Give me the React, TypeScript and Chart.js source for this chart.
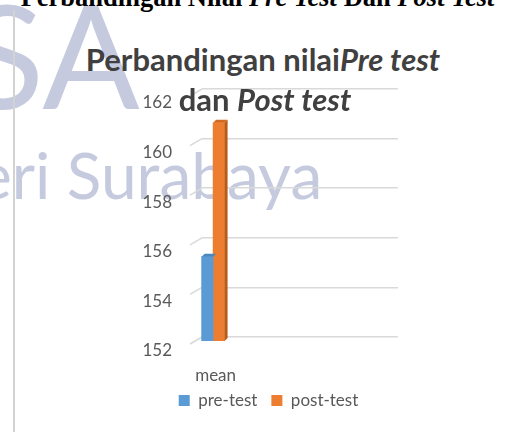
import React, { useEffect, useRef } from "react";
import { Chart, registerables } from "chart.js";

Chart.register(...registerables);

// ---- data ----
const categories = ["mean"];
const seriesNames = ["pre-test", "post-test"];
const preTest = [155.4];
const postTest = [160.8];
const yTicks = [152, 154, 156, 158, 160, 162];

// ---- style ----
const BLUE = "#5b9bd5";
const BLUE_TOP = "#4a86c0";
const ORANGE = "#ed7d31";
const ORANGE_TOP = "#d2691f";
const ORANGE_SIDE = "#b85c1a";
const GRID = "#d9d9d9";
const TEXT = "#595959";
const FONT = "Lato";

const DEPTH = 3;
const FRONT_SHIFT = 4;

const depthPlugin = {
  id: "depth3d",
  afterLayout(chart: any) {
    // let the category label use the space above the legend without clipping
    const x = chart.scales.x;
    x.bottom = x.top + 60;
  },
  beforeDatasetsDraw(chart: any) {
    const ctx = chart.ctx;
    const y = chart.scales.y;
    const left = chart.chartArea.left;
    ctx.save();
    ctx.strokeStyle = GRID;
    ctx.lineWidth = 1.5;
    y.ticks.forEach((t: any) => {
      const py = y.getPixelForValue(t.value);
      ctx.beginPath();
      ctx.moveTo(left - 12, py + 7);
      ctx.lineTo(left, py);
      ctx.stroke();
    });
    ctx.restore();
    ctx.save();
    ctx.translate(0, FRONT_SHIFT);
  },
  afterDatasetDraw(chart: any, args: any) {
    const ctx = chart.ctx;
    const meta = chart.getDatasetMeta(args.index);
    const isLast = args.index === chart.data.datasets.length - 1;
    const bottom = chart.chartArea.bottom;
    meta.data.forEach((bar: any) => {
      const p = bar.getProps(["x", "y", "base", "width"], true);
      const x = p.x, y = p.y, width = p.width;
      const base = Math.min(p.base, bottom);
      const l = x - width / 2;
      const r = x + width / 2;
      ctx.save();
      if (isLast) {
        ctx.fillStyle = ORANGE_SIDE;
        ctx.beginPath();
        ctx.moveTo(r, y);
        ctx.lineTo(r + DEPTH, y - DEPTH);
        ctx.lineTo(r + DEPTH, base - DEPTH);
        ctx.lineTo(r, base);
        ctx.closePath();
        ctx.fill();
      }
      ctx.fillStyle = isLast ? ORANGE_TOP : BLUE_TOP;
      ctx.beginPath();
      ctx.moveTo(l, y);
      ctx.lineTo(l + DEPTH, y - DEPTH);
      ctx.lineTo(r + DEPTH, y - DEPTH);
      ctx.lineTo(r, y);
      ctx.closePath();
      ctx.fill();
      ctx.restore();
    });
  },
  afterDatasetsDraw(chart: any) {
    chart.ctx.restore();
  },
};

function BarChart() {
  const ref = useRef<HTMLCanvasElement | null>(null);
  useEffect(() => {
    if (!ref.current) return;
    const clip = { left: 10, top: 10, right: 10, bottom: 0 };
    const chart = new Chart(ref.current, {
      type: "bar",
      data: {
        datasets: [
          {
            label: seriesNames[0],
            data: preTest.map((v, i) => ({ x: i, y: v })),
            backgroundColor: BLUE,
            barThickness: 11.5,
            clip,
          },
          {
            label: seriesNames[1],
            data: postTest.map((v, i) => ({ x: i, y: v })),
            backgroundColor: ORANGE,
            barThickness: 11.5,
            clip,
          },
        ],
      },
      options: {
        animation: false,
        responsive: false,
        maintainAspectRatio: false,
        layout: { padding: { top: 9, right: 22, left: 9, bottom: 6 } },
        plugins: {
          title: { display: false },
          tooltip: { enabled: false },
          legend: {
            position: "bottom",
            labels: {
              boxWidth: 11,
              boxHeight: 11,
              padding: 14,
              color: TEXT,
              font: { family: FONT, size: 17 },
            },
          },
        },
        scales: {
          x: {
            type: "linear",
            offset: false,
            min: -0.48,
            max: 8,
            afterBuildTicks: (s: any) => {
              s.ticks = categories.map((_, i) => ({ value: i }));
            },
            afterFit: (s: any) => {
              s.height = 41;
              s.paddingLeft = 0;
              s.paddingRight = 0;
            },
            ticks: {
              callback: (v: any) => categories[v as number],
              color: TEXT,
              font: { family: FONT, size: 17 },
              padding: 28,
              labelOffset: 2.5,
              maxRotation: 0,
              autoSkip: false,
            },
            grid: { display: false, drawTicks: false },
            border: { display: false },
          },
          y: {
            min: 152,
            max: 162,
            afterBuildTicks: (s: any) => {
              s.ticks = yTicks.map((v) => ({ value: v }));
            },
            afterFit: (s: any) => {
              s.width = 63;
              s.paddingTop = 0;
              s.paddingBottom = 0;
            },
            ticks: {
              color: TEXT,
              font: { family: FONT, size: 17 },
              padding: 30,
              labelOffset: 14,
            },
            grid: { color: GRID, lineWidth: 1.5, drawTicks: false },
            border: { display: false },
          },
        },
      },
      plugins: [depthPlugin],
    } as any);
    return () => chart.destroy();
  }, []);
  return (
    <canvas
      ref={ref}
      width={290}
      height={345}
      style={{ position: "absolute", left: 130, top: 80, width: 290, height: 345 }}
    />
  );
}

export default function App() {
  const wm = "#c6cadf";
  const titleStyle: React.CSSProperties = {
    position: "absolute",
    left: 0,
    textAlign: "center",
    fontFamily: FONT,
    fontWeight: "bold",
    fontSize: 31,
    lineHeight: "37.2px",
    color: "#404040",
    whiteSpace: "nowrap",
  };
  return (
    <div
      style={{
        position: "fixed",
        left: 0,
        top: 0,
        width: 511,
        height: 432,
        overflow: "hidden",
        background: "#ffffff",
      }}
    >
      {/* watermark */}
      <div
        style={{
          position: "absolute",
          left: -34,
          top: -32,
          fontFamily: FONT,
          fontSize: 144,
          lineHeight: "172.8px",
          color: wm,
          whiteSpace: "nowrap",
        }}
      >
        SA
      </div>
      <div
        style={{
          position: "absolute",
          left: -22,
          top: 137,
          fontFamily: FONT,
          fontSize: 64,
          lineHeight: "76.8px",
          color: wm,
          whiteSpace: "nowrap",
        }}
      >
        eri Surabaya
      </div>
      {/* page margin line */}
      <div
        style={{
          position: "absolute",
          left: 13,
          top: 10,
          width: 1.5,
          height: 430,
          background: "#d3d3d3",
        }}
      />
      {/* document heading (cut off) */}
      <div
        style={{
          position: "absolute",
          left: 0,
          width: 515,
          top: -16,
          textAlign: "center",
          fontFamily: "'Liberation Serif', serif",
          fontWeight: "bold",
          fontSize: 26.5,
          lineHeight: "26px",
          color: "#000",
          whiteSpace: "nowrap",
        }}
      >
        Perbandingan Nilai <i>Pre Test</i> Dan <i>Post Test</i>
      </div>
      <BarChart />
      {/* chart title */}
      <div style={{ ...titleStyle, width: 526, top: 41 }}>
        Perbandingan nilai<i>Pre test</i>
      </div>
      <div style={{ ...titleStyle, width: 530, top: 81 }}>
        dan <i>Post test</i>
      </div>
    </div>
  );
}
